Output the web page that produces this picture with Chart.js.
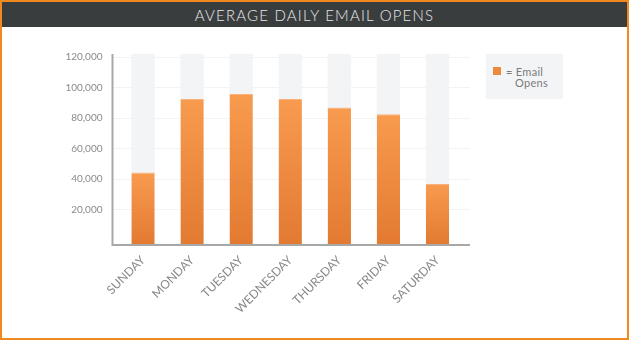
<!DOCTYPE html>
<html>
<head>
<meta charset="utf-8">
<script src="https://cdn.jsdelivr.net/npm/chart.js@4/dist/chart.umd.min.js"></script>
<style>
  body { margin: 0; background: #fff; font-family: Lato, "Open Sans", sans-serif; }
  #frame { position: absolute; left: 0; top: 0; width: 629px; height: 340px; box-sizing: border-box; border: 2px solid #f0891f; }
  #title { position: absolute; left: 2px; top: 2px; width: 625px; height: 25px; background: #3a3d3e; color: #e6e8ea;
           font-size: 15px; font-weight: 300; letter-spacing: 1.2px; text-align: center; line-height: 26px; }
  #box { position: absolute; left: 0; top: 30px; width: 480px; height: 300px; }
  #legend { position: absolute; left: 486px; top: 54px; width: 77px; height: 45px; background: #f3f4f6;
            font-size: 11px; color: #7a7a7a; letter-spacing: 0.3px; }
  #legend .sw { position: absolute; left: 7px; top: 13px; width: 8px; height: 8px; background: #ee8a3e; }
  #legend .l1 { position: absolute; left: 20px; top: 12px; line-height: 11px; }
  #legend .l2 { position: absolute; left: 29px; top: 23px; line-height: 11px; }
</style>
</head>
<body>
<div id="frame"></div>
<div id="title">AVERAGE DAILY EMAIL OPENS</div>
<div id="box"><canvas id="chart"></canvas></div>
<div id="legend"><div class="sw"></div><div class="l1">= Email</div><div class="l2">Opens</div></div>
<script>
// values
const days = ["SUNDAY", "MONDAY", "TUESDAY", "WEDNESDAY", "THURSDAY", "FRIDAY", "SATURDAY"];
const opens = [44200, 92500, 95800, 92500, 86800, 82500, 36600];
const yTicks = [20000, 40000, 60000, 80000, 100000, 120000];
const yMin = -2800;
const yMax = 122000;

// faint grid lines and the gray axis lines, drawn a bit wider than the bars area
const axisLines = {
    id: "axisLines",
    beforeDatasetsDraw(chart) {
        const { ctx, chartArea, scales } = chart;
        ctx.save();
        ctx.strokeStyle = "#f3f3f3";
        ctx.lineWidth = 1;
        for (let v of yTicks) {
            const y = Math.round(scales.y.getPixelForValue(v)) + 0.5;
            ctx.beginPath();
            ctx.moveTo(chartArea.left - 6, y);
            ctx.lineTo(chartArea.right + 8, y);
            ctx.stroke();
        }
        ctx.restore();
    },
    afterDatasetsDraw(chart) {
        const { ctx, chartArea } = chart;
        ctx.save();
        ctx.strokeStyle = "#a8a8a8";
        ctx.lineWidth = 2;
        ctx.beginPath();
        ctx.moveTo(chartArea.left - 6, chartArea.top);
        ctx.lineTo(chartArea.left - 6, chartArea.bottom + 1);
        ctx.lineTo(chartArea.right + 8, chartArea.bottom + 1);
        ctx.stroke();
        ctx.restore();
    }
};

function barGradient(context) {
    const chart = context.chart;
    const area = chart.chartArea;
    if (!area || !context.parsed) return "#ef8a3e";
    const top = chart.scales.y.getPixelForValue(context.parsed.y);
    const g = chart.ctx.createLinearGradient(0, top, 0, area.bottom);
    g.addColorStop(0, "#f89b4f");
    g.addColorStop(1, "#e37a32");
    return g;
}

new Chart(document.getElementById("chart"), {
    type: "bar",
    data: {
        labels: days,
        datasets: [{
            label: "Email Opens",
            data: opens,
            base: yMin,
            backgroundColor: barGradient,
            borderColor: "#f9b27c",
            borderWidth: { top: 1, left: 0, right: 0, bottom: 0 },
            borderSkipped: "bottom",
            order: 0
        }, {
            label: "track",
            data: days.map(() => yMax),
            base: yMin,
            backgroundColor: "#f3f4f6",
            order: 1
        }]
    },
    plugins: [axisLines],
    options: {
        responsive: true,
        maintainAspectRatio: false,
        animation: false,
        grouped: false,
        categoryPercentage: 1,
        barPercentage: 0.475,
        layout: { padding: { top: 24, right: 18, left: 0, bottom: 0 } },
        plugins: { legend: { display: false }, tooltip: { enabled: false } },
        scales: {
            x: {
                grid: { display: false, drawTicks: false },
                border: { display: false },
                ticks: {
                    minRotation: 45, maxRotation: 45, padding: 9,
                    color: "#888888",
                    font: { family: "Lato", size: 12 }
                },
                afterFit(scale) { scale.height = 86; }
            },
            y: {
                min: yMin,
                max: yMax,
                grid: { display: false, drawTicks: false },
                border: { display: false },
                afterBuildTicks(scale) { scale.ticks = yTicks.map(v => ({ value: v })); },
                ticks: {
                    padding: 16,
                    color: "#8a8a8a",
                    font: { family: "Lato", size: 10 },
                    callback: v => v.toLocaleString("en-US")
                },
                afterFit(scale) { scale.width = 118.5; }
            }
        }
    }
});
</script>
</body>
</html>
